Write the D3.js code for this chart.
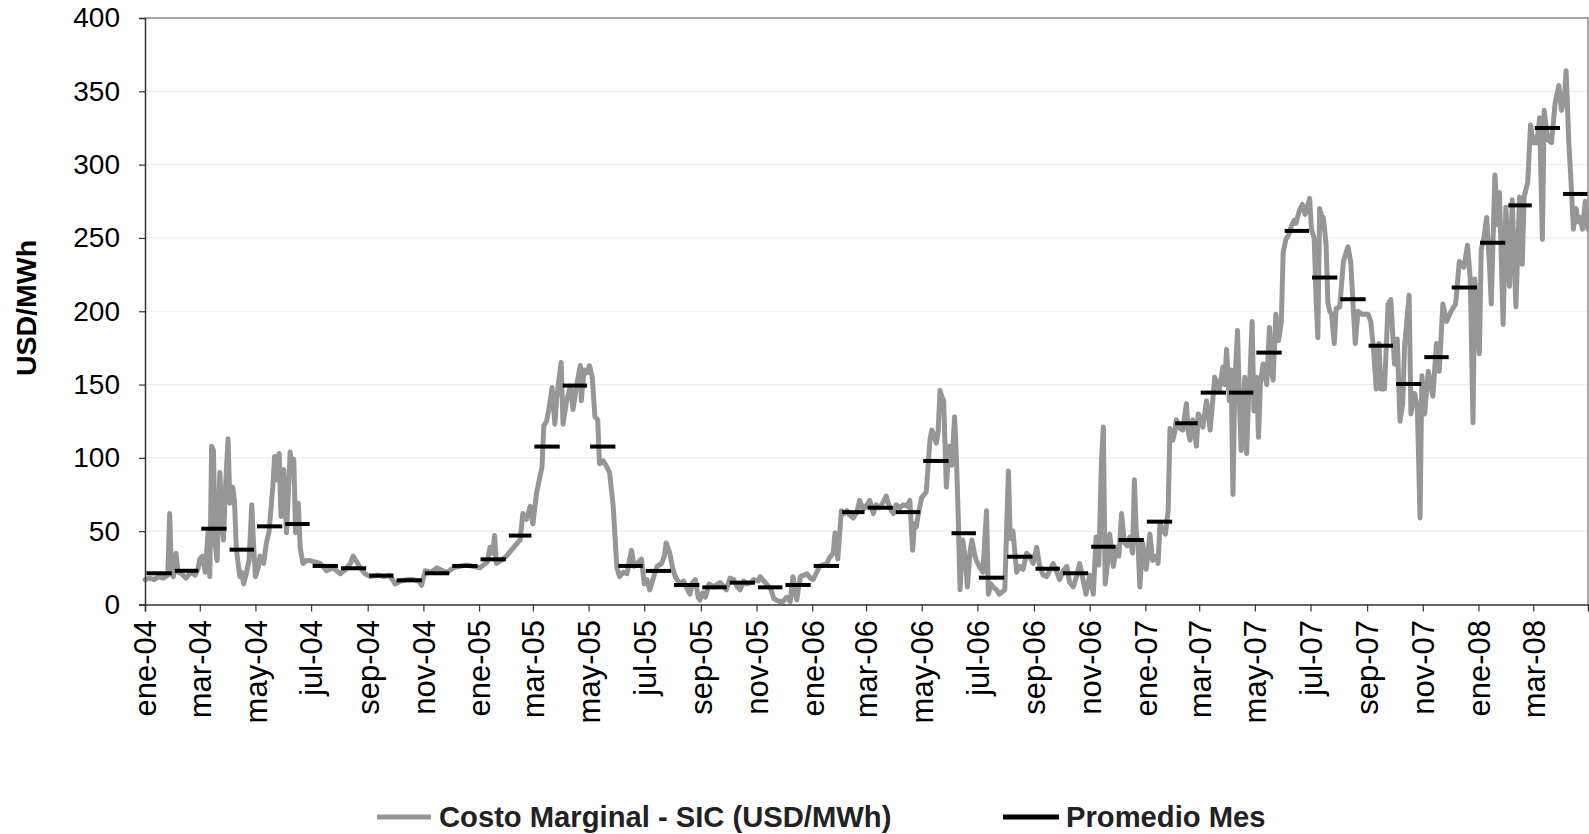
<!DOCTYPE html>
<html>
<head>
<meta charset="utf-8">
<script src="https://cdnjs.cloudflare.com/ajax/libs/d3/7.8.5/d3.min.js"></script>
<style>
  html, body { margin: 0; padding: 0; background: #fff; }
  svg { display: block; font-family: 'Liberation Sans', Arial, sans-serif; }
</style>
</head>
<body>
<div id="chart"></div>
<script>
// data
const mesesAbrev = ['ene', 'feb', 'mar', 'abr', 'may', 'jun', 'jul', 'ago', 'sep', 'oct', 'nov', 'dic']
const yTicks = [0, 50, 100, 150, 200, 250, 300, 350, 400]
const leyenda = ['Costo Marginal - SIC (USD/MWh)', 'Promedio Mes']
const yTitulo = 'USD/MWh'

// monthly average, ene-04 .. abr-08
const promedioMes = [
  21.3, 23, 51.7, 37.4, 53.3, 54.9, 26.3, 24.7, 19.7, 16.5, 21.3, 26.3,
  30.8, 47, 107.7, 149.3, 107.7, 26.3, 22.9, 13.3, 11.7, 14.9, 11.7, 13.3,
  26.3, 63, 66, 63, 97.9, 48.6, 18.3, 32.6, 24.4, 21.3, 39.4, 44,
  56.5, 123.6, 144.5, 144.5, 171.8, 254.8, 223, 208.2, 176.5, 150.4, 168.7, 216.2,
  246.7, 272.2, 325, 280
]

// [days since 1-ene-2004, USD/MWh]
const costoDiario = [
  [0, 17], [5, 18], [10, 17], [15, 19], [20, 18], [25, 20], [27, 62], [29, 22], [31, 19], [34, 35],
  [36, 22], [40, 21], [45, 18], [50, 22], [55, 20], [58, 24], [60, 31], [63, 33], [66, 22], [69, 49],
  [71, 19], [73, 108], [75, 105], [77, 40], [79, 30], [82, 90], [84, 60], [86, 44], [88, 78], [91, 113],
  [93, 69], [96, 80], [98, 71], [100, 39], [102, 28], [104, 19], [106, 22], [108, 14], [111, 21], [114, 30],
  [117, 68], [119, 40], [121, 19], [124, 25], [126, 33], [130, 28], [133, 42], [136, 50], [140, 80], [142, 101],
  [145, 85], [147, 103], [149, 60], [152, 92], [155, 49], [157, 75], [159, 104], [161, 95], [163, 99], [165, 49],
  [168, 69], [170, 39], [173, 28], [177, 30], [181, 30], [186, 29], [192, 28], [199, 23], [206, 25], [214, 21],
  [220, 24], [225, 28], [228, 33], [232, 29], [236, 25], [241, 21], [247, 19], [255, 20], [262, 19], [268, 20],
  [274, 14], [280, 16], [287, 17], [294, 17], [300, 16], [303, 13], [307, 23], [313, 22], [320, 25], [326, 23],
  [331, 22], [338, 25], [345, 26], [352, 27], [359, 26], [367, 25], [371, 27], [375, 29], [378, 39], [381, 35],
  [383, 47], [385, 28], [390, 30], [396, 33], [400, 36], [404, 39], [408, 42], [411, 44], [414, 62], [418, 58],
  [422, 67], [425, 55], [429, 76], [432, 85], [435, 94], [437, 122], [440, 125], [443, 135], [446, 148], [449, 123],
  [451, 140], [453, 151], [456, 165], [458, 123], [462, 139], [466, 149], [469, 133], [473, 150], [477, 163], [478, 139],
  [481, 160], [484, 158], [487, 163], [490, 155], [493, 128], [496, 126], [498, 96], [502, 98], [505, 95], [509, 90],
  [513, 67], [517, 25], [520, 19], [524, 22], [528, 21], [533, 37], [536, 26], [539, 28], [544, 31], [547, 14],
  [550, 17], [553, 10], [557, 18], [561, 26], [566, 28], [569, 33], [571, 42], [575, 35], [578, 25], [581, 19],
  [586, 14], [590, 16], [593, 12], [597, 7], [600, 15], [603, 17], [606, 5], [608, 3], [611, 8], [614, 5],
  [618, 14], [623, 12], [630, 15], [637, 10], [641, 18], [645, 17], [649, 12], [652, 10], [656, 16], [659, 14],
  [664, 15], [667, 17], [672, 16], [674, 19], [678, 16], [681, 14], [686, 10], [689, 4], [692, 3], [696, 2],
  [699, 2], [703, 5], [707, 2], [710, 19], [714, 3], [718, 19], [722, 20], [725, 21], [729, 18], [732, 17],
  [736, 22], [739, 26], [743, 27], [747, 28], [750, 32], [754, 35], [756, 49], [759, 31], [763, 64], [766, 62],
  [769, 64], [772, 61], [776, 59], [780, 63], [783, 71], [787, 65], [790, 67], [794, 71], [798, 62], [801, 68],
  [805, 66], [809, 70], [812, 74], [816, 66], [820, 62], [823, 68], [827, 66], [831, 68], [835, 67], [838, 71],
  [841, 37], [843, 55], [845, 53], [848, 64], [851, 73], [854, 75], [856, 77], [860, 112], [862, 119], [864, 116],
  [867, 110], [869, 118], [871, 146], [873, 142], [875, 139], [878, 80], [881, 108], [884, 95], [887, 128], [889, 100],
  [891, 60], [893, 10], [896, 44], [899, 30], [901, 12], [904, 36], [906, 44], [909, 34], [911, 30], [914, 26],
  [918, 22], [922, 64], [924, 7], [927, 14], [929, 12], [933, 10], [936, 7], [940, 9], [942, 10], [946, 91],
  [948, 45], [951, 50], [955, 22], [958, 26], [962, 24], [966, 35], [969, 33], [973, 28], [977, 39], [980, 27],
  [984, 20], [988, 19], [992, 24], [995, 28], [999, 22], [1002, 17], [1006, 23], [1010, 26], [1013, 15], [1017, 12],
  [1021, 20], [1024, 28], [1028, 16], [1031, 7], [1035, 20], [1039, 7], [1042, 46], [1045, 27], [1048, 99], [1050, 121],
  [1052, 14], [1055, 30], [1057, 48], [1061, 26], [1064, 39], [1067, 33], [1070, 62], [1073, 42], [1076, 40], [1079, 46],
  [1082, 35], [1084, 85], [1086, 50], [1088, 40], [1090, 12], [1093, 42], [1097, 24], [1101, 48], [1104, 30], [1108, 33],
  [1110, 28], [1112, 55], [1115, 51], [1118, 48], [1121, 64], [1123, 120], [1126, 112], [1128, 117], [1130, 126], [1134, 120],
  [1137, 119], [1141, 137], [1143, 118], [1145, 112], [1148, 126], [1152, 108], [1154, 130], [1156, 128], [1159, 121], [1163, 139],
  [1165, 130], [1167, 119], [1170, 140], [1172, 155], [1175, 150], [1177, 146], [1181, 162], [1183, 150], [1185, 174], [1188, 139],
  [1190, 160], [1192, 75], [1194, 150], [1197, 187], [1199, 140], [1201, 105], [1203, 130], [1205, 155], [1207, 103], [1209, 140],
  [1210, 146], [1213, 193], [1215, 132], [1218, 155], [1220, 114], [1222, 150], [1225, 164], [1227, 160], [1229, 150], [1232, 189],
  [1234, 160], [1236, 153], [1239, 198], [1242, 180], [1245, 193], [1247, 240], [1250, 249], [1253, 252], [1256, 258], [1259, 262],
  [1261, 260], [1265, 269], [1268, 273], [1271, 266], [1274, 272], [1276, 277], [1278, 256], [1281, 250], [1283, 210], [1285, 182],
  [1287, 270], [1289, 265], [1291, 264], [1294, 246], [1296, 206], [1298, 200], [1300, 198], [1303, 178], [1305, 202], [1309, 203],
  [1313, 234], [1316, 240], [1318, 244], [1321, 234], [1324, 200], [1326, 178], [1329, 200], [1333, 198], [1336, 198], [1340, 198],
  [1343, 193], [1346, 174], [1349, 147], [1352, 178], [1354, 147], [1358, 147], [1362, 205], [1365, 208], [1367, 185], [1369, 164],
  [1372, 181], [1375, 125], [1378, 137], [1380, 176], [1385, 211], [1387, 130], [1391, 144], [1394, 135], [1397, 59], [1399, 156],
  [1402, 130], [1406, 159], [1411, 142], [1415, 178], [1418, 159], [1422, 205], [1426, 193], [1431, 200], [1436, 205], [1440, 234],
  [1445, 230], [1449, 245], [1452, 222], [1455, 124], [1457, 222], [1460, 190], [1462, 171], [1464, 242], [1467, 250], [1470, 264],
  [1473, 232], [1475, 205], [1479, 293], [1482, 259], [1484, 281], [1488, 191], [1491, 271], [1495, 217], [1498, 276], [1502, 203],
  [1506, 278], [1509, 232], [1511, 278], [1515, 288], [1518, 327], [1521, 315], [1525, 315], [1528, 332], [1531, 249], [1533, 337],
  [1537, 317], [1541, 315], [1545, 342], [1549, 354], [1552, 337], [1555, 345], [1557, 364], [1560, 315], [1562, 293], [1565, 256],
  [1568, 270], [1570, 261], [1572, 264], [1575, 256], [1578, 275], [1581, 256]
]

const totalWidth = 1589
const totalHeight = 834
const plot = { left: 145, right: 1588, top: 18, bottom: 604.5 }

const inicio = new Date(2004, 0, 1)
const fin = new Date(2008, 3, 30)

const svg = d3
  .select('#chart')
  .append('svg')
  .attr('width', totalWidth)
  .attr('height', totalHeight)

const x = d3.scaleTime().domain([inicio, fin]).range([plot.left, plot.right])
const y = d3.scaleLinear().domain([0, 400]).range([plot.bottom, plot.top])

// gridlines
svg
  .selectAll('.grid')
  .data(yTicks.filter(d => d > 0 && d < 400))
  .enter()
  .append('line')
  .attr('class', 'grid')
  .attr('x1', plot.left)
  .attr('x2', plot.right)
  .attr('y1', d => y(d))
  .attr('y2', d => y(d))
  .attr('stroke', '#ededed')
  .attr('stroke-width', 1.2)

// frame top / right
svg
  .append('path')
  .attr('d', `M${plot.left},${plot.top}H${plot.right}V${plot.bottom}`)
  .attr('fill', 'none')
  .attr('stroke', '#8c8c8c')
  .attr('stroke-width', 1.5)

// daily series
const line = d3
  .line()
  .x(d => x(d3.timeDay.offset(inicio, d[0])))
  .y(d => y(d[1]))

svg
  .append('path')
  .datum(costoDiario)
  .attr('d', line)
  .attr('fill', 'none')
  .attr('stroke', '#969696')
  .attr('stroke-width', 5)
  .attr('stroke-linejoin', 'round')
  .attr('stroke-linecap', 'round')

// monthly averages
svg
  .selectAll('.promedio')
  .data(promedioMes)
  .enter()
  .append('line')
  .attr('class', 'promedio')
  .attr('x1', (d, i) => x(new Date(2004, i, 1)) + 1.5)
  .attr('x2', (d, i) => Math.min(x(new Date(2004, i + 1, 1)) - 1.5, plot.right))
  .attr('y1', d => y(d))
  .attr('y2', d => y(d))
  .attr('stroke', '#000')
  .attr('stroke-width', 4)

// axes
const yAxis = d3.axisLeft(y).tickValues(yTicks).tickSize(6).tickPadding(19)
svg
  .append('g')
  .attr('transform', `translate(${plot.left},0)`)
  .call(yAxis)
  .call(g => g.select('.domain').attr('stroke', '#333').attr('stroke-width', 1.5))
  .call(g => g.selectAll('.tick line').attr('stroke', '#333').attr('stroke-width', 1.2))
  .call(g =>
    g
      .selectAll('.tick text')
      .attr('font-size', 28)
      .attr('font-family', "'Liberation Sans', Arial, sans-serif")
      .attr('fill', '#000')
  )

const xTickDates = d3.timeMonth.every(2).range(inicio, new Date(2008, 3, 1))
const xAxis = d3
  .axisBottom(x)
  .tickValues(xTickDates)
  .tickSize(7)
  .tickFormat(d => mesesAbrev[d.getMonth()] + '-' + String(d.getFullYear()).slice(2))

svg
  .append('g')
  .attr('transform', `translate(0,${plot.bottom})`)
  .call(xAxis)
  .call(g => g.select('.domain').attr('stroke', '#333').attr('stroke-width', 1.5))
  .call(g => g.selectAll('.tick line').attr('stroke', '#333').attr('stroke-width', 1.2))
  .call(g =>
    g
      .selectAll('.tick text')
      .attr('font-size', 31)
      .attr('font-family', "'Liberation Sans', Arial, sans-serif")
      .attr('fill', '#000')
      .attr('transform', 'rotate(-90)')
      .attr('text-anchor', 'end')
      .attr('x', -15.5)
      .attr('y', 0)
      .attr('dy', '0.35em')
  )

// y title
svg
  .append('text')
  .text(yTitulo)
  .attr('transform', 'translate(26,308) rotate(-90)')
  .attr('text-anchor', 'middle')
  .attr('dominant-baseline', 'central')
  .attr('font-size', 28.5)
  .attr('font-weight', 'bold')
  .attr('fill', '#000')

// legend
const legendItems = [
  { label: leyenda[0], color: '#969696', x1: 377, x2: 431, tx: 439 },
  { label: leyenda[1], color: '#000', x1: 1003, x2: 1059, tx: 1066 }
]

legendItems.forEach(item => {
  svg
    .append('line')
    .attr('x1', item.x1)
    .attr('x2', item.x2)
    .attr('y1', 817)
    .attr('y2', 817)
    .attr('stroke', item.color)
    .attr('stroke-width', 5)

  svg
    .append('text')
    .text(item.label)
    .attr('x', item.tx)
    .attr('y', 827)
    .attr('font-size', 29.2)
    .attr('font-weight', 'bold')
    .attr('fill', '#222')
})
</script>
</body>
</html>
